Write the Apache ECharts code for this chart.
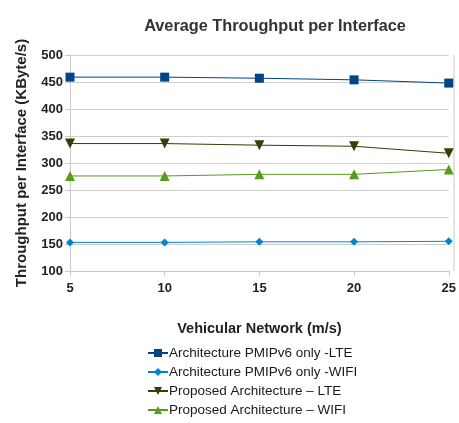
<!DOCTYPE html>
<html>
<head>
<meta charset="utf-8">
<script src="https://cdn.jsdelivr.net/npm/echarts@6/dist/echarts.min.js"></script>
<style>
  html, body { margin: 0; padding: 0; background: #fff; }
  #chart { width: 459px; height: 423px; }
</style>
</head>
<body>
<div id="chart"></div>
<script>
// Vehicle speeds (m/s) on the x axis
const speeds = [5, 10, 15, 20, 25];

// Average throughput per interface, KByte/s
const pmipLte  = [459, 459, 457, 454, 448];
const pmipWifi = [153, 153, 154, 154, 155];
const propLte  = [336, 336, 333, 331, 318];
const propWifi = [276, 276, 279, 279, 288];

const seriesNames = [
  'Architecture PMIPv6 only -LTE',
  'Architecture PMIPv6 only -WIFI',
  'Proposed Architecture \u2013 LTE',
  'Proposed Architecture \u2013 WIFI'
];

const yTicks = { min: 100, max: 500, step: 50 };

const pairs = vals => speeds.map((s, i) => [s, vals[i]]);

const font = '"Liberation Sans", Arial, sans-serif';

const chart = echarts.init(document.getElementById('chart'), null, { renderer: 'canvas' });

function lineSeries(name, vals, color, symbol, size, rotate) {
  return {
    name: name,
    type: 'line',
    data: pairs(vals),
    symbol: symbol,
    symbolSize: size,
    symbolRotate: rotate || 0,
    showSymbol: true,
    lineStyle: { color: color, width: 1 },
    itemStyle: { color: color },
    emphasis: { disabled: true },
    animation: false
  };
}

chart.setOption({
  backgroundColor: '#fff',
  animation: false,
  title: {
    text: 'Average Throughput per Interface',
    left: 270,
    top: 14,
    textAlign: 'center',
    textStyle: { fontFamily: font, fontSize: 16.3, fontWeight: 'bold', color: '#333' }
  },
  grid: { left: 70, right: 5, top: 55, height: 216, containLabel: false },
  xAxis: {
    type: 'value',
    min: 5, max: 25, interval: 5,
    name: 'Vehicular Network (m/s)',
    nameLocation: 'middle',
    nameGap: 50,
    nameTextStyle: { fontFamily: font, fontSize: 14.5, fontWeight: 'bold', color: '#222' },
    axisLine: { show: true, lineStyle: { color: '#c8c8c8' } },
    axisTick: { show: true, length: 5, lineStyle: { color: '#c8c8c8' } },
    axisLabel: { fontFamily: font, fontSize: 13, fontWeight: 'bold', color: '#222', margin: 11 },
    splitLine: { show: false }
  },
  yAxis: {
    type: 'value',
    min: yTicks.min, max: yTicks.max, interval: yTicks.step,
    name: 'Throughput per Interface (KByte/s)',
    nameLocation: 'middle',
    nameGap: 41,
    nameTextStyle: { fontFamily: font, fontSize: 15, fontWeight: 'bold', color: '#222' },
    axisLine: { show: true, lineStyle: { color: '#c8c8c8' } },
    axisTick: { show: true, length: 5, lineStyle: { color: '#c8c8c8' } },
    axisLabel: { fontFamily: font, fontSize: 13, fontWeight: 'bold', color: '#222', margin: 7 },
    splitLine: { show: true, lineStyle: { color: '#cfcfcf', width: 1 } }
  },
  legend: {
    orient: 'vertical',
    left: 147,
    top: 346,
    padding: 0,
    height: 80,
    itemGap: 5,
    itemWidth: 20,
    itemHeight: 10,
    data: seriesNames,
    textStyle: { fontFamily: font, fontSize: 13.5, color: '#1a1a1a', padding: [0, 0, 0, -4] }
  },
  series: [
    lineSeries(seriesNames[0], pmipLte, '#004586', 'rect', 9),
    lineSeries(seriesNames[1], pmipWifi, '#0084d1', 'diamond', 8),
    lineSeries(seriesNames[2], propLte, '#314004', 'triangle', 10, 180),
    lineSeries(seriesNames[3], propWifi, '#579d1c', 'triangle', 10)
  ],
  graphic: [
    {
      type: 'line',
      shape: { x1: 454, y1: 55, x2: 454, y2: 271 },
      style: { stroke: '#c8c8c8', lineWidth: 1 },
      silent: true
    }
  ]
});
</script>
</body>
</html>
